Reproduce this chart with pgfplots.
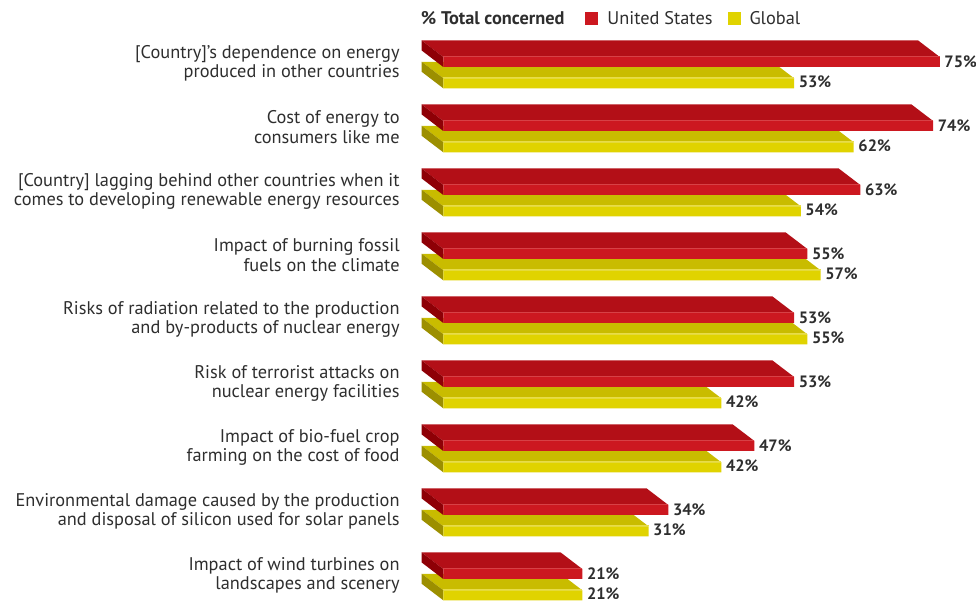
\documentclass[border=0pt]{standalone}
\usepackage{pgfplots}
\usepackage{pgfplotstable}
\pgfplotsset{compat=1.18}
\usepackage{fontspec}
\setmainfont{PT Sans}

\definecolor{usfront}{HTML}{CC1820}
\definecolor{ustop}{HTML}{B30F17}
\definecolor{usside}{HTML}{8E0006}
\definecolor{usedge}{HTML}{D9474C}
\definecolor{glfront}{HTML}{E0D300}
\definecolor{gltop}{HTML}{C9BC00}
\definecolor{glside}{HTML}{9C8F00}
\definecolor{gledge}{HTML}{E8DC4A}
\definecolor{txt}{HTML}{2E2E2E}

\pgfplotstableread{
pos us gl
8 75 53
7 74 62
6 63 54
5 55 57
4 53 55
3 53 42
2 47 42
1 34 31
0 21 21
}\data

\def\ux{6.62}
\def\dxx{21.6}
\def\dyy{16.5}
\def\hh{10}
\def\gshift{-21.3}

\newcommand\threedfaces[4]{%
  \pgfmathsetmacro\Lb{-\val*\ux}%
  \pgfmathsetmacro\yt{#1+\hh/2}%
  \pgfmathsetmacro\yb{#1-\hh/2}%
  \pgfmathsetmacro\ytt{\yt+\dyy}%
  \pgfmathsetmacro\ybb{\yb+\dyy}%
  \pgfmathsetmacro\xll{\Lb-\dxx}%
  \pgfsetfillcolor{#2}%
  \pgfpathmoveto{\pgfpoint{0bp}{\yt bp}}%
  \pgfpathlineto{\pgfpoint{\Lb bp}{\yt bp}}%
  \pgfpathlineto{\pgfpoint{\xll bp}{\ytt bp}}%
  \pgfpathlineto{\pgfpoint{-\dxx bp}{\ytt bp}}%
  \pgfpathclose
  \pgfusepath{fill}%
  \pgfsetfillcolor{#3}%
  \pgfpathmoveto{\pgfpoint{\Lb bp}{\yt bp}}%
  \pgfpathlineto{\pgfpoint{\Lb bp}{\yb bp}}%
  \pgfpathlineto{\pgfpoint{\xll bp}{\ybb bp}}%
  \pgfpathlineto{\pgfpoint{\xll bp}{\ytt bp}}%
  \pgfpathclose
  \pgfusepath{fill}%
  \pgfsetfillcolor{#4}%
  \pgfpathrectanglecorners{\pgfpoint{\Lb bp}{\yt bp}}{\pgfpoint{0bp}{\yt bp+0.9bp}}%
  \pgfusepath{fill}%
}
\pgfdeclareplotmark{us3d}{\threedfaces{0}{ustop}{usside}{usedge}}
\pgfdeclareplotmark{gl3d}{\threedfaces{\gshift}{gltop}{glside}{gledge}}

\begin{document}
\begin{tikzpicture}
\begin{axis}[
  x=6.62bp, y=64bp,
  xmin=0, xmax=80, ymin=-0.5, ymax=8.75,
  clip=false, clip mode=individual,
  axis line style={draw=none},
  xtick=\empty,
  ytick={0,...,8},
  yticklabels={
    {Impact of wind turbines on\\landscapes and scenery},
    {Environmental damage caused by the production\\and disposal of silicon used for solar panels},
    {Impact of bio-fuel crop\\farming on the cost of food},
    {Risk of terrorist attacks on\\nuclear energy facilities},
    {Risks of radiation related to the production\\and by-products of nuclear energy},
    {Impact of burning fossil\\fuels on the climate},
    {[Country] lagging behind other countries when it\\comes to developing renewable energy resources},
    {Cost of energy to\\consumers like me},
    {[Country]'s dependence on energy\\produced in other countries}},
  major tick length=0pt,
  yticklabel style={anchor=east, inner sep=0pt, xshift=-43.5bp, yshift=-1.3bp,
    align=right, font=\fontsize{18.4}{19.6}\selectfont, text=txt},
  legend image code/.code={\fill[#1] (0bp,-6.5bp) rectangle (13bp,6.5bp);},
  legend style={at={(-0.0591,0.9927)}, anchor=west, draw=none, fill=none,
    inner sep=0pt, outer sep=0pt, font=\fontsize{18.4}{20}\selectfont, text=txt,
    legend columns=-1, nodes={inner sep=0pt},
    /tikz/every odd column/.append style={column sep=9bp},
    /tikz/column 2/.style={column sep=21bp},
    /tikz/column 4/.style={column sep=15bp}},
]
\addplot[scatter, only marks, mark=gl3d,
  scatter/@pre marker code/.code={}, scatter/@post marker code/.code={},
  visualization depends on={rawx \as \val}, forget plot]
  table[x=gl, y=pos] {\data};
\addplot[xbar, bar width=10bp, bar shift=-21.3bp, fill=glfront, draw=none,
  point meta=explicit symbolic, nodes near coords={\pgfplotspointmeta\%},
  nodes near coords style={anchor=west, inner sep=0pt, xshift=4.5bp, yshift=-19.4bp,
    font=\fontsize{16.5}{19}\selectfont\bfseries, text=txt}, forget plot]
  table[x=gl, y=pos, meta=gl] {\data};
\addplot[scatter, only marks, mark=us3d,
  scatter/@pre marker code/.code={}, scatter/@post marker code/.code={},
  visualization depends on={rawx \as \val}, forget plot]
  table[x=us, y=pos] {\data};
\addplot[xbar, bar width=10bp, bar shift=0bp, fill=usfront, draw=none,
  point meta=explicit symbolic, nodes near coords={\pgfplotspointmeta\%},
  nodes near coords style={anchor=west, inner sep=0pt, xshift=4.5bp,
    font=\fontsize{16.5}{19}\selectfont\bfseries, text=txt}, forget plot]
  table[x=us, y=pos, meta=us] {\data};
\addlegendimage{empty legend}\addlegendentry{\textbf{\% Total concerned}}
\addlegendimage{fill=usfront, draw=none}\addlegendentry{United States}
\addlegendimage{fill=glfront, draw=none}\addlegendentry{Global}
\coordinate (O) at (axis cs:0,0);
\end{axis}
\pgfresetboundingbox
\path[use as bounding box] (O) ++(-443.3bp,-28bp) rectangle ++(976bp,602bp);
\end{tikzpicture}
\end{document}
